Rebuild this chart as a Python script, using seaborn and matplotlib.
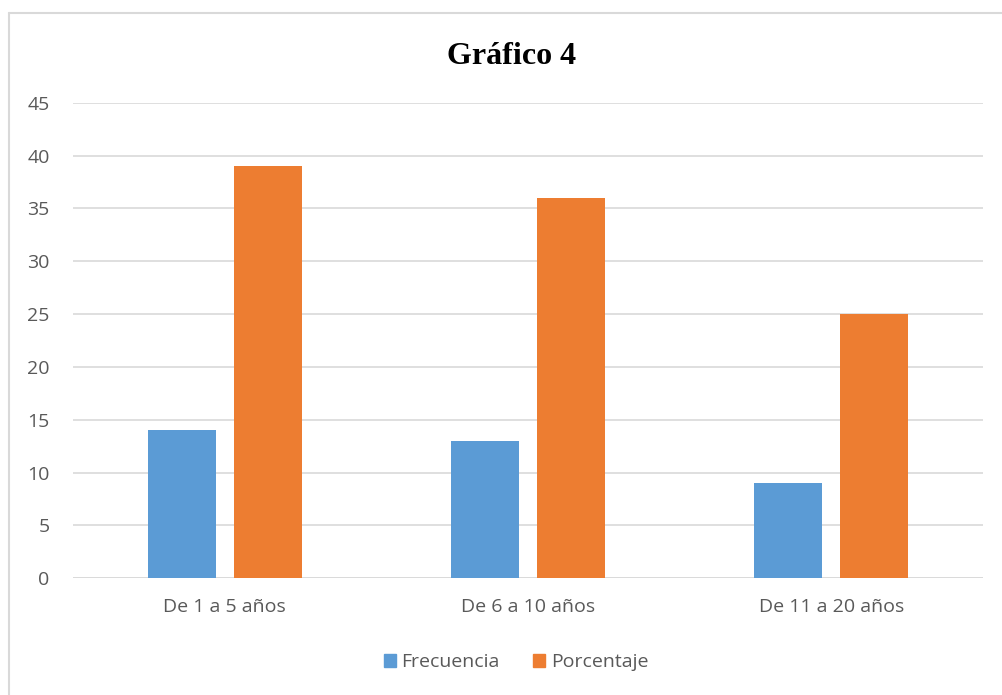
import matplotlib
matplotlib.use("Agg")
import matplotlib.pyplot as plt
import matplotlib.patches as mpatches
import matplotlib.lines as mlines
import pandas as pd
import seaborn as sns

categorias = ["De 1 a 5 años", "De 6 a 10 años", "De 11 a 20 años"]
frecuencia = [14, 13, 9]
porcentaje = [39, 36, 25]
series = ["Frecuencia", "Porcentaje"]
y_ticks = [0, 5, 10, 15, 20, 25, 30, 35, 40, 45]

df = pd.DataFrame({
    "categoria": categorias * 2,
    "serie": [series[0]] * 3 + [series[1]] * 3,
    "valor": frecuencia + porcentaje,
})

sns.set_style("white")
plt.rcParams["font.family"] = ["Open Sans", "DejaVu Sans"]

gris = "#595959"
colores = {"Frecuencia": "#5B9BD5", "Porcentaje": "#ED7D31"}

fig = plt.figure(figsize=(10.02, 6.95), dpi=100)
ax = fig.add_axes([0.073, 0.168, 0.908, 0.684])

sns.barplot(data=df, x="categoria", y="valor", hue="serie", order=categorias,
            hue_order=series, palette=colores, width=0.566, gap=0.209,
            saturation=1, linewidth=0, ax=ax, legend=False)

ax.set_ylim(0, 45)
ax.set_yticks(y_ticks)
ax.set_xlim(-0.5, 2.5)
ax.yaxis.grid(True, color="#d9d9d9", linewidth=1.2)
ax.set_axisbelow(True)
for s in ax.spines.values():
    s.set_visible(False)
ax.axhline(0, color="#d9d9d9", linewidth=1.2, zorder=0.5)
ax.set_xlabel("")
ax.set_ylabel("")
ax.tick_params(axis="both", length=0, labelsize=14, labelcolor=gris)
ax.tick_params(axis="y", pad=17)
ax.tick_params(axis="x", pad=14)

fig.text(0.511, 0.919, "Gráfico 4", ha="center", va="center", color="black",
         fontsize=23, fontweight="bold", family=["Liberation Serif", "DejaVu Serif"])

handles = [mpatches.Patch(color=colores[s], label=s) for s in series]
fig.legend(handles=handles, loc="center", bbox_to_anchor=(0.515, 0.047), ncol=2,
           frameon=False, fontsize=14, labelcolor=gris, handlelength=0.62,
           handleheight=0.62, handletextpad=0.3, columnspacing=1.7)

# marco del gráfico (solo borde izquierdo y superior visibles)
fig.lines.append(mlines.Line2D([0.009, 0.009], [0.0, 0.982], transform=fig.transFigure,
                               color="#d9d9d9", linewidth=1.5))
fig.lines.append(mlines.Line2D([0.009, 1.0], [0.982, 0.982], transform=fig.transFigure,
                               color="#d9d9d9", linewidth=1.5))

fig.savefig("out.png", dpi=100, facecolor="white")
